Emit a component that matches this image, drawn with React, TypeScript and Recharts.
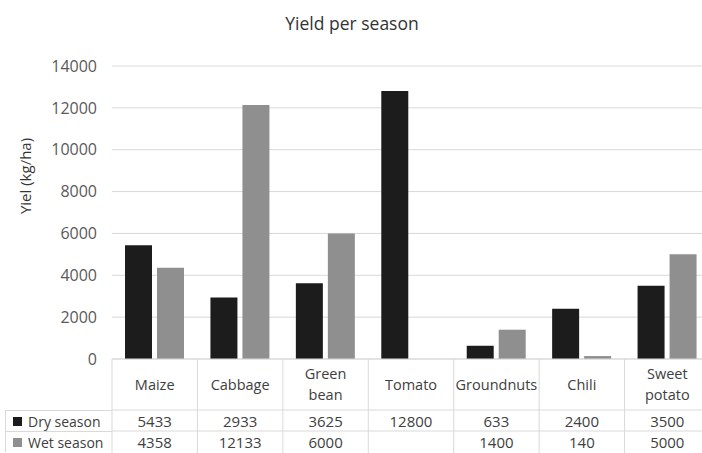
import { BarChart, Bar, XAxis, YAxis, CartesianGrid, Legend } from 'recharts';

const categories = ['Maize', 'Cabbage', 'Green bean', 'Tomato', 'Groundnuts', 'Chili', 'Sweet potato'];
const drySeason = [5433, 2933, 3625, 12800, 633, 2400, 3500];
const wetSeason: (number | null)[] = [4358, 12133, 6000, null, 1400, 140, 5000];
const yTicks = [0, 2000, 4000, 6000, 8000, 10000, 12000, 14000];

const data = categories.map((name, i) => ({ name, dry: drySeason[i], wet: wetSeason[i] }));

const CHART_W = 712;
const CHART_H = 453;
const PLOT_LEFT = 112;
const PLOT_RIGHT = 2;
const PLOT_TOP = 66;
const AXIS_H = 94;
const COL_W = (CHART_W - PLOT_LEFT - PLOT_RIGHT) / categories.length;
const GRID = '#d9d9d9';
const DRY = '#1c1c1c';
const WET = '#8f8f8f';
const FONT = '"Open Sans", "Noto Sans", sans-serif';
const TEXT = '#404040';

function TableTick(props: any) {
  const { x, y, payload, index } = props;
  const left = x - COL_W / 2;
  const right = x + COL_W / 2;
  const words: string[] = payload.value.split(' ');
  const headerMid = y + 25;
  const lineH = 21;
  const startY = headerMid - ((words.length - 1) * lineH) / 2;
  const fmt = (v: number | null) => (v == null ? '' : String(v));
  return (
    <g fontFamily={FONT} fill={TEXT}>
      <line x1={left} y1={y} x2={left} y2={y + AXIS_H} stroke={GRID} />
      {index === categories.length - 1 && (
        <line x1={right} y1={y} x2={right} y2={y + AXIS_H} stroke={GRID} />
      )}
      <line x1={left} y1={y + 51} x2={right} y2={y + 51} stroke={GRID} />
      <line x1={left} y1={y + 72} x2={right} y2={y + 72} stroke={GRID} />
      {words.map((w, k) => (
        <text key={k} x={x} y={startY + k * lineH} textAnchor="middle" dominantBaseline="central" fontSize={14.5}>
          {w}
        </text>
      ))}
      <text x={x} y={y + 61.5} textAnchor="middle" dominantBaseline="central" fontSize={15}>
        {fmt(drySeason[index])}
      </text>
      <text x={x} y={y + 82.5} textAnchor="middle" dominantBaseline="central" fontSize={15}>
        {fmt(wetSeason[index])}
      </text>
    </g>
  );
}

function TableLegend(props: any) {
  const items = props.payload || [];
  return (
    <div style={{ fontFamily: FONT, fontSize: 14, color: TEXT }}>
      {items.map((item: any) => (
        <div
          key={item.value}
          style={{
            height: 21,
            borderTop: `1px solid ${GRID}`,
            borderLeft: `1px solid ${GRID}`,
            display: 'flex',
            alignItems: 'center',
            boxSizing: 'border-box',
            whiteSpace: 'nowrap',
          }}
        >
          <span
            style={{ display: 'inline-block', width: 9, height: 9, background: item.color, marginLeft: 7, marginRight: 6 }}
          />
          {item.value}
        </div>
      ))}
    </div>
  );
}

function YLabel() {
  return (
    <text
      x={25}
      y={176}
      transform="rotate(-90 25 176)"
      textAnchor="middle"
      dominantBaseline="central"
      fontFamily={FONT}
      fontSize={15}
      fill="#333"
    >
      Yiel (kg/ha)
    </text>
  );
}

export default function App() {
  return (
    <div style={{ position: 'absolute', left: 0, top: 0, width: 702, height: 453, overflow: 'hidden', background: '#fff' }}>
      <div
        style={{
          position: 'absolute',
          top: 11,
          left: 0,
          width: 704,
          textAlign: 'center',
          fontFamily: FONT,
          fontSize: 17.5,
          color: '#333',
        }}
      >
        Yield per season
      </div>
      <BarChart
        width={CHART_W}
        height={CHART_H}
        data={data}
        margin={{ top: PLOT_TOP, right: PLOT_RIGHT, bottom: 0, left: 0 }}
        barSize={27}
        barGap={5}
      >
        <CartesianGrid vertical={false} stroke={GRID} />
        <YAxis
          width={PLOT_LEFT}
          domain={[0, 14000]}
          ticks={yTicks}
          axisLine={false}
          tickLine={false}
          tickMargin={9}
          tick={{ fontFamily: FONT, fontSize: 16, fill: '#595959' }}
          label={<YLabel />}
        />
        <XAxis
          dataKey="name"
          height={AXIS_H}
          interval={0}
          tickLine={false}
          tickSize={0}
          tickMargin={0}
          axisLine={{ stroke: GRID }}
          tick={<TableTick />}
        />
        <Legend
          layout="horizontal"
          verticalAlign="middle"
          align="center"
          content={<TableLegend />}
          wrapperStyle={{ left: 5, top: 410, width: 107, height: 43 }}
        />
        <Bar dataKey="dry" name="Dry season" fill={DRY} isAnimationActive={false} />
        <Bar dataKey="wet" name="Wet season" fill={WET} isAnimationActive={false} />
      </BarChart>
    </div>
  );
}
